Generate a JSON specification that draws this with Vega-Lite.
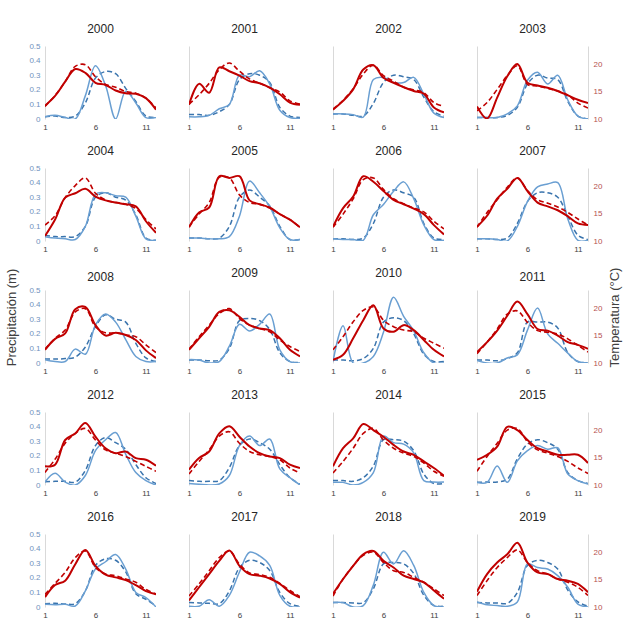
{
"$schema":"https://vega.github.io/schema/vega-lite/v6.json",
"padding":{"left":5,"top":23,"right":5,"bottom":5},
"data":{"values":[
{"year":2000,"month":1,"prec":0.015,"precAvg":0.015,"temp":12.4,"tempAvg":12.3},
{"year":2000,"month":2,"prec":0.025,"precAvg":0.02,"temp":14.2,"tempAvg":14.3},
{"year":2000,"month":3,"prec":0.01,"precAvg":0.01,"temp":16.8,"tempAvg":16.8},
{"year":2000,"month":4,"prec":0.0,"precAvg":0.02,"temp":19.1,"tempAvg":19.6},
{"year":2000,"month":5,"prec":0.16,"precAvg":0.11,"temp":18.4,"tempAvg":19.9},
{"year":2000,"month":6,"prec":0.365,"precAvg":0.28,"temp":16.6,"tempAvg":17.7},
{"year":2000,"month":7,"prec":0.23,"precAvg":0.325,"temp":16.2,"tempAvg":16.3},
{"year":2000,"month":8,"prec":0.0,"precAvg":0.31,"temp":15.2,"tempAvg":15.8},
{"year":2000,"month":9,"prec":0.19,"precAvg":0.21,"temp":14.7,"tempAvg":15.0},
{"year":2000,"month":10,"prec":0.11,"precAvg":0.12,"temp":14.6,"tempAvg":14.7},
{"year":2000,"month":11,"prec":0.01,"precAvg":0.02,"temp":13.8,"tempAvg":13.8},
{"year":2000,"month":12,"prec":0.01,"precAvg":0.01,"temp":11.7,"tempAvg":12.0},
{"year":2001,"month":1,"prec":0.015,"precAvg":0.03,"temp":12.6,"tempAvg":12.7},
{"year":2001,"month":2,"prec":0.015,"precAvg":0.03,"temp":16.4,"tempAvg":14.4},
{"year":2001,"month":3,"prec":0.025,"precAvg":0.025,"temp":14.8,"tempAvg":16.5},
{"year":2001,"month":4,"prec":0.07,"precAvg":0.05,"temp":19.4,"tempAvg":19.0},
{"year":2001,"month":5,"prec":0.1,"precAvg":0.1,"temp":18.7,"tempAvg":20.2},
{"year":2001,"month":6,"prec":0.3,"precAvg":0.27,"temp":17.9,"tempAvg":18.7},
{"year":2001,"month":7,"prec":0.29,"precAvg":0.31,"temp":16.9,"tempAvg":17.3},
{"year":2001,"month":8,"prec":0.33,"precAvg":0.3,"temp":16.5,"tempAvg":16.5},
{"year":2001,"month":9,"prec":0.24,"precAvg":0.25,"temp":15.7,"tempAvg":15.7},
{"year":2001,"month":10,"prec":0.06,"precAvg":0.08,"temp":14.5,"tempAvg":14.9},
{"year":2001,"month":11,"prec":0.01,"precAvg":0.02,"temp":13.0,"tempAvg":13.3},
{"year":2001,"month":12,"prec":0.005,"precAvg":0.01,"temp":12.6,"tempAvg":12.7},
{"year":2002,"month":1,"prec":0.035,"precAvg":0.035,"temp":11.7,"tempAvg":11.8},
{"year":2002,"month":2,"prec":0.035,"precAvg":0.035,"temp":13.3,"tempAvg":13.4},
{"year":2002,"month":3,"prec":0.03,"precAvg":0.025,"temp":15.4,"tempAvg":15.5},
{"year":2002,"month":4,"prec":0.013,"precAvg":0.02,"temp":19.0,"tempAvg":18.2},
{"year":2002,"month":5,"prec":0.27,"precAvg":0.107,"temp":19.8,"tempAvg":19.8},
{"year":2002,"month":6,"prec":0.285,"precAvg":0.25,"temp":17.5,"tempAvg":17.9},
{"year":2002,"month":7,"prec":0.25,"precAvg":0.3,"temp":16.6,"tempAvg":16.9},
{"year":2002,"month":8,"prec":0.25,"precAvg":0.29,"temp":15.8,"tempAvg":15.8},
{"year":2002,"month":9,"prec":0.285,"precAvg":0.27,"temp":15.1,"tempAvg":15.3},
{"year":2002,"month":10,"prec":0.17,"precAvg":0.15,"temp":14.6,"tempAvg":14.8},
{"year":2002,"month":11,"prec":0.04,"precAvg":0.05,"temp":12.1,"tempAvg":13.0},
{"year":2002,"month":12,"prec":0.01,"precAvg":0.02,"temp":11.2,"tempAvg":12.3},
{"year":2003,"month":1,"prec":0.01,"precAvg":0.01,"temp":12.3,"tempAvg":11.5},
{"year":2003,"month":2,"prec":0.01,"precAvg":0.01,"temp":10.1,"tempAvg":13.0},
{"year":2003,"month":3,"prec":0.01,"precAvg":0.01,"temp":13.9,"tempAvg":15.4},
{"year":2003,"month":4,"prec":0.035,"precAvg":0.025,"temp":17.8,"tempAvg":17.9},
{"year":2003,"month":5,"prec":0.09,"precAvg":0.08,"temp":20.0,"tempAvg":19.7},
{"year":2003,"month":6,"prec":0.265,"precAvg":0.24,"temp":16.6,"tempAvg":16.3},
{"year":2003,"month":7,"prec":0.32,"precAvg":0.3,"temp":16.1,"tempAvg":16.0},
{"year":2003,"month":8,"prec":0.24,"precAvg":0.28,"temp":15.7,"tempAvg":15.6},
{"year":2003,"month":9,"prec":0.3,"precAvg":0.27,"temp":15.1,"tempAvg":15.1},
{"year":2003,"month":10,"prec":0.13,"precAvg":0.12,"temp":14.3,"tempAvg":14.4},
{"year":2003,"month":11,"prec":0.02,"precAvg":0.02,"temp":13.5,"tempAvg":12.9},
{"year":2003,"month":12,"prec":0.0,"precAvg":0.0,"temp":12.9,"tempAvg":12.0},
{"year":2004,"month":1,"prec":0.03,"precAvg":0.04,"temp":10.9,"tempAvg":12.9},
{"year":2004,"month":2,"prec":0.02,"precAvg":0.03,"temp":13.9,"tempAvg":14.6},
{"year":2004,"month":3,"prec":0.015,"precAvg":0.03,"temp":17.9,"tempAvg":17.9},
{"year":2004,"month":4,"prec":0.01,"precAvg":0.03,"temp":18.7,"tempAvg":20.1},
{"year":2004,"month":5,"prec":0.1,"precAvg":0.1,"temp":19.5,"tempAvg":21.5},
{"year":2004,"month":6,"prec":0.32,"precAvg":0.3,"temp":18.1,"tempAvg":18.7},
{"year":2004,"month":7,"prec":0.33,"precAvg":0.33,"temp":17.4,"tempAvg":17.5},
{"year":2004,"month":8,"prec":0.31,"precAvg":0.3,"temp":17.0,"tempAvg":17.0},
{"year":2004,"month":9,"prec":0.3,"precAvg":0.28,"temp":16.7,"tempAvg":16.7},
{"year":2004,"month":10,"prec":0.17,"precAvg":0.18,"temp":16.3,"tempAvg":15.9},
{"year":2004,"month":11,"prec":0.015,"precAvg":0.02,"temp":13.6,"tempAvg":13.9},
{"year":2004,"month":12,"prec":0.005,"precAvg":0.005,"temp":11.5,"tempAvg":12.2},
{"year":2005,"month":1,"prec":0.02,"precAvg":0.02,"temp":12.5,"tempAvg":12.6},
{"year":2005,"month":2,"prec":0.02,"precAvg":0.02,"temp":15.2,"tempAvg":14.9},
{"year":2005,"month":3,"prec":0.015,"precAvg":0.015,"temp":16.1,"tempAvg":17.0},
{"year":2005,"month":4,"prec":0.015,"precAvg":0.02,"temp":21.8,"tempAvg":21.6},
{"year":2005,"month":5,"prec":0.03,"precAvg":0.1,"temp":21.5,"tempAvg":21.5},
{"year":2005,"month":6,"prec":0.17,"precAvg":0.3,"temp":21.8,"tempAvg":18.4},
{"year":2005,"month":7,"prec":0.41,"precAvg":0.35,"temp":17.4,"tempAvg":17.0},
{"year":2005,"month":8,"prec":0.33,"precAvg":0.3,"temp":16.7,"tempAvg":16.7},
{"year":2005,"month":9,"prec":0.235,"precAvg":0.24,"temp":16.1,"tempAvg":16.0},
{"year":2005,"month":10,"prec":0.09,"precAvg":0.1,"temp":14.9,"tempAvg":14.9},
{"year":2005,"month":11,"prec":0.01,"precAvg":0.01,"temp":13.9,"tempAvg":13.9},
{"year":2005,"month":12,"prec":0.01,"precAvg":0.01,"temp":12.5,"tempAvg":12.5},
{"year":2006,"month":1,"prec":0.015,"precAvg":0.015,"temp":12.6,"tempAvg":12.5},
{"year":2006,"month":2,"prec":0.01,"precAvg":0.015,"temp":16.0,"tempAvg":14.9},
{"year":2006,"month":3,"prec":0.01,"precAvg":0.01,"temp":18.1,"tempAvg":17.7},
{"year":2006,"month":4,"prec":0.005,"precAvg":0.02,"temp":21.8,"tempAvg":21.2},
{"year":2006,"month":5,"prec":0.18,"precAvg":0.12,"temp":20.8,"tempAvg":21.5},
{"year":2006,"month":6,"prec":0.25,"precAvg":0.3,"temp":19.1,"tempAvg":19.4},
{"year":2006,"month":7,"prec":0.34,"precAvg":0.35,"temp":17.5,"tempAvg":17.7},
{"year":2006,"month":8,"prec":0.405,"precAvg":0.33,"temp":16.7,"tempAvg":16.8},
{"year":2006,"month":9,"prec":0.29,"precAvg":0.3,"temp":15.9,"tempAvg":16.0},
{"year":2006,"month":10,"prec":0.11,"precAvg":0.12,"temp":14.9,"tempAvg":15.3},
{"year":2006,"month":11,"prec":0.01,"precAvg":0.02,"temp":12.9,"tempAvg":13.6},
{"year":2006,"month":12,"prec":0.005,"precAvg":0.01,"temp":11.2,"tempAvg":12.2},
{"year":2007,"month":1,"prec":0.015,"precAvg":0.015,"temp":12.6,"tempAvg":12.5},
{"year":2007,"month":2,"prec":0.015,"precAvg":0.015,"temp":14.6,"tempAvg":15.2},
{"year":2007,"month":3,"prec":0.01,"precAvg":0.01,"temp":17.7,"tempAvg":17.5},
{"year":2007,"month":4,"prec":0.0,"precAvg":0.02,"temp":19.5,"tempAvg":19.8},
{"year":2007,"month":5,"prec":0.1,"precAvg":0.12,"temp":21.5,"tempAvg":21.5},
{"year":2007,"month":6,"prec":0.27,"precAvg":0.27,"temp":19.1,"tempAvg":19.2},
{"year":2007,"month":7,"prec":0.37,"precAvg":0.33,"temp":17.0,"tempAvg":17.5},
{"year":2007,"month":8,"prec":0.39,"precAvg":0.33,"temp":16.3,"tempAvg":16.9},
{"year":2007,"month":9,"prec":0.4,"precAvg":0.3,"temp":15.6,"tempAvg":16.2},
{"year":2007,"month":10,"prec":0.15,"precAvg":0.17,"temp":14.5,"tempAvg":15.2},
{"year":2007,"month":11,"prec":0.005,"precAvg":0.04,"temp":13.2,"tempAvg":14.0},
{"year":2007,"month":12,"prec":0.005,"precAvg":0.01,"temp":12.9,"tempAvg":12.9},
{"year":2008,"month":1,"prec":0.022,"precAvg":0.027,"temp":12.4,"tempAvg":12.5},
{"year":2008,"month":2,"prec":0.01,"precAvg":0.027,"temp":14.4,"tempAvg":14.5},
{"year":2008,"month":3,"prec":0.01,"precAvg":0.03,"temp":15.4,"tempAvg":16.0},
{"year":2008,"month":4,"prec":0.095,"precAvg":0.04,"temp":19.8,"tempAvg":19.3},
{"year":2008,"month":5,"prec":0.06,"precAvg":0.11,"temp":20.2,"tempAvg":19.9},
{"year":2008,"month":6,"prec":0.26,"precAvg":0.25,"temp":16.9,"tempAvg":16.6},
{"year":2008,"month":7,"prec":0.335,"precAvg":0.33,"temp":15.0,"tempAvg":15.5},
{"year":2008,"month":8,"prec":0.28,"precAvg":0.3,"temp":15.5,"tempAvg":15.5},
{"year":2008,"month":9,"prec":0.16,"precAvg":0.28,"temp":15.1,"tempAvg":15.1},
{"year":2008,"month":10,"prec":0.045,"precAvg":0.135,"temp":14.2,"tempAvg":14.8},
{"year":2008,"month":11,"prec":0.01,"precAvg":0.035,"temp":12.3,"tempAvg":13.3},
{"year":2008,"month":12,"prec":0.01,"precAvg":0.01,"temp":10.9,"tempAvg":11.9},
{"year":2009,"month":1,"prec":0.023,"precAvg":0.02,"temp":12.4,"tempAvg":12.5},
{"year":2009,"month":2,"prec":0.02,"precAvg":0.02,"temp":14.5,"tempAvg":14.8},
{"year":2009,"month":3,"prec":0.0,"precAvg":0.015,"temp":16.6,"tempAvg":16.9},
{"year":2009,"month":4,"prec":0.01,"precAvg":0.02,"temp":19.3,"tempAvg":19.0},
{"year":2009,"month":5,"prec":0.115,"precAvg":0.1,"temp":19.6,"tempAvg":19.9},
{"year":2009,"month":6,"prec":0.265,"precAvg":0.29,"temp":18.4,"tempAvg":18.1},
{"year":2009,"month":7,"prec":0.22,"precAvg":0.305,"temp":16.9,"tempAvg":16.9},
{"year":2009,"month":8,"prec":0.265,"precAvg":0.29,"temp":16.3,"tempAvg":16.3},
{"year":2009,"month":9,"prec":0.335,"precAvg":0.23,"temp":16.0,"tempAvg":15.7},
{"year":2009,"month":10,"prec":0.09,"precAvg":0.07,"temp":14.5,"tempAvg":14.2},
{"year":2009,"month":11,"prec":0.01,"precAvg":0.01,"temp":12.4,"tempAvg":13.0},
{"year":2009,"month":12,"prec":0.0,"precAvg":0.005,"temp":11.2,"tempAvg":12.1},
{"year":2010,"month":1,"prec":0.01,"precAvg":0.02,"temp":10.6,"tempAvg":12.4},
{"year":2010,"month":2,"prec":0.255,"precAvg":0.02,"temp":11.5,"tempAvg":14.8},
{"year":2010,"month":3,"prec":0.0,"precAvg":0.015,"temp":14.5,"tempAvg":17.5},
{"year":2010,"month":4,"prec":0.0,"precAvg":0.03,"temp":17.8,"tempAvg":19.6},
{"year":2010,"month":5,"prec":0.045,"precAvg":0.1,"temp":20.5,"tempAvg":20.2},
{"year":2010,"month":6,"prec":0.21,"precAvg":0.28,"temp":16.3,"tempAvg":17.8},
{"year":2010,"month":7,"prec":0.45,"precAvg":0.31,"temp":15.7,"tempAvg":16.6},
{"year":2010,"month":8,"prec":0.32,"precAvg":0.29,"temp":16.9,"tempAvg":16.0},
{"year":2010,"month":9,"prec":0.22,"precAvg":0.2,"temp":16.0,"tempAvg":15.7},
{"year":2010,"month":10,"prec":0.07,"precAvg":0.06,"temp":14.2,"tempAvg":14.5},
{"year":2010,"month":11,"prec":0.0,"precAvg":0.01,"temp":12.4,"tempAvg":13.6},
{"year":2010,"month":12,"prec":0.0,"precAvg":0.01,"temp":11.2,"tempAvg":12.7},
{"year":2011,"month":1,"prec":0.018,"precAvg":0.02,"temp":12.0,"tempAvg":11.7},
{"year":2011,"month":2,"prec":0.0,"precAvg":0.02,"temp":13.8,"tempAvg":13.8},
{"year":2011,"month":3,"prec":0.0,"precAvg":0.015,"temp":15.9,"tempAvg":16.2},
{"year":2011,"month":4,"prec":0.034,"precAvg":0.03,"temp":18.6,"tempAvg":18.9},
{"year":2011,"month":5,"prec":0.056,"precAvg":0.07,"temp":21.2,"tempAvg":19.5},
{"year":2011,"month":6,"prec":0.225,"precAvg":0.28,"temp":18.9,"tempAvg":17.4},
{"year":2011,"month":7,"prec":0.376,"precAvg":0.28,"temp":16.2,"tempAvg":15.9},
{"year":2011,"month":8,"prec":0.2,"precAvg":0.28,"temp":15.9,"tempAvg":15.6},
{"year":2011,"month":9,"prec":0.135,"precAvg":0.24,"temp":15.0,"tempAvg":15.3},
{"year":2011,"month":10,"prec":0.068,"precAvg":0.07,"temp":13.8,"tempAvg":14.4},
{"year":2011,"month":11,"prec":0.01,"precAvg":0.01,"temp":13.3,"tempAvg":13.2},
{"year":2011,"month":12,"prec":0.0,"precAvg":0.0,"temp":12.6,"tempAvg":12.0},
{"year":2012,"month":1,"prec":0.02,"precAvg":0.022,"temp":13.4,"tempAvg":12.3},
{"year":2012,"month":2,"prec":0.08,"precAvg":0.025,"temp":13.7,"tempAvg":14.7},
{"year":2012,"month":3,"prec":0.02,"precAvg":0.025,"temp":18.2,"tempAvg":17.6},
{"year":2012,"month":4,"prec":0.0,"precAvg":0.02,"temp":19.4,"tempAvg":19.4},
{"year":2012,"month":5,"prec":0.065,"precAvg":0.1,"temp":21.3,"tempAvg":20.3},
{"year":2012,"month":6,"prec":0.235,"precAvg":0.27,"temp":18.8,"tempAvg":18.2},
{"year":2012,"month":7,"prec":0.31,"precAvg":0.325,"temp":16.7,"tempAvg":16.4},
{"year":2012,"month":8,"prec":0.36,"precAvg":0.29,"temp":15.8,"tempAvg":15.8},
{"year":2012,"month":9,"prec":0.21,"precAvg":0.245,"temp":16.1,"tempAvg":15.2},
{"year":2012,"month":10,"prec":0.085,"precAvg":0.14,"temp":14.9,"tempAvg":14.3},
{"year":2012,"month":11,"prec":0.03,"precAvg":0.05,"temp":14.6,"tempAvg":13.4},
{"year":2012,"month":12,"prec":0.0,"precAvg":0.01,"temp":13.5,"tempAvg":12.5},
{"year":2013,"month":1,"prec":0.01,"precAvg":0.03,"temp":12.8,"tempAvg":12.0},
{"year":2013,"month":2,"prec":0.005,"precAvg":0.025,"temp":14.9,"tempAvg":14.3},
{"year":2013,"month":3,"prec":0.0,"precAvg":0.025,"temp":16.1,"tempAvg":16.4},
{"year":2013,"month":4,"prec":0.007,"precAvg":0.03,"temp":19.4,"tempAvg":18.9},
{"year":2013,"month":5,"prec":0.065,"precAvg":0.12,"temp":20.7,"tempAvg":19.7},
{"year":2013,"month":6,"prec":0.27,"precAvg":0.27,"temp":18.8,"tempAvg":17.6},
{"year":2013,"month":7,"prec":0.335,"precAvg":0.315,"temp":17.0,"tempAvg":16.1},
{"year":2013,"month":8,"prec":0.27,"precAvg":0.29,"temp":15.8,"tempAvg":15.5},
{"year":2013,"month":9,"prec":0.315,"precAvg":0.245,"temp":15.2,"tempAvg":15.2},
{"year":2013,"month":10,"prec":0.11,"precAvg":0.14,"temp":14.9,"tempAvg":14.6},
{"year":2013,"month":11,"prec":0.05,"precAvg":0.05,"temp":13.7,"tempAvg":13.1},
{"year":2013,"month":12,"prec":0.0,"precAvg":0.005,"temp":13.1,"tempAvg":12.2},
{"year":2014,"month":1,"prec":0.018,"precAvg":0.03,"temp":13.4,"tempAvg":12.2},
{"year":2014,"month":2,"prec":0.018,"precAvg":0.03,"temp":16.7,"tempAvg":14.3},
{"year":2014,"month":3,"prec":0.0,"precAvg":0.025,"temp":18.5,"tempAvg":16.7},
{"year":2014,"month":4,"prec":0.018,"precAvg":0.05,"temp":21.1,"tempAvg":19.4},
{"year":2014,"month":5,"prec":0.085,"precAvg":0.13,"temp":20.0,"tempAvg":20.3},
{"year":2014,"month":6,"prec":0.335,"precAvg":0.31,"temp":18.8,"tempAvg":18.2},
{"year":2014,"month":7,"prec":0.29,"precAvg":0.31,"temp":17.3,"tempAvg":16.7},
{"year":2014,"month":8,"prec":0.28,"precAvg":0.3,"temp":16.1,"tempAvg":15.8},
{"year":2014,"month":9,"prec":0.22,"precAvg":0.235,"temp":15.5,"tempAvg":15.2},
{"year":2014,"month":10,"prec":0.03,"precAvg":0.075,"temp":14.3,"tempAvg":14.0},
{"year":2014,"month":11,"prec":0.02,"precAvg":0.01,"temp":13.1,"tempAvg":12.5},
{"year":2014,"month":12,"prec":0.02,"precAvg":0.01,"temp":11.7,"tempAvg":11.6},
{"year":2015,"month":1,"prec":0.018,"precAvg":0.018,"temp":14.6,"tempAvg":12.5},
{"year":2015,"month":2,"prec":0.018,"precAvg":0.02,"temp":15.5,"tempAvg":15.2},
{"year":2015,"month":3,"prec":0.13,"precAvg":0.02,"temp":17.0,"tempAvg":17.6},
{"year":2015,"month":4,"prec":0.018,"precAvg":0.04,"temp":20.6,"tempAvg":20.0},
{"year":2015,"month":5,"prec":0.165,"precAvg":0.18,"temp":20.0,"tempAvg":20.3},
{"year":2015,"month":6,"prec":0.235,"precAvg":0.28,"temp":18.2,"tempAvg":17.9},
{"year":2015,"month":7,"prec":0.27,"precAvg":0.31,"temp":16.7,"tempAvg":16.4},
{"year":2015,"month":8,"prec":0.245,"precAvg":0.29,"temp":16.1,"tempAvg":15.8},
{"year":2015,"month":9,"prec":0.255,"precAvg":0.245,"temp":15.5,"tempAvg":15.2},
{"year":2015,"month":10,"prec":0.075,"precAvg":0.085,"temp":15.5,"tempAvg":14.3},
{"year":2015,"month":11,"prec":0.03,"precAvg":0.03,"temp":15.5,"tempAvg":13.1},
{"year":2015,"month":12,"prec":0.007,"precAvg":0.01,"temp":14.0,"tempAvg":12.1},
{"year":2016,"month":1,"prec":0.018,"precAvg":0.023,"temp":11.8,"tempAvg":12.3},
{"year":2016,"month":2,"prec":0.015,"precAvg":0.025,"temp":14.0,"tempAvg":14.3},
{"year":2016,"month":3,"prec":0.018,"precAvg":0.02,"temp":14.8,"tempAvg":16.3},
{"year":2016,"month":4,"prec":0.007,"precAvg":0.023,"temp":17.8,"tempAvg":19.0},
{"year":2016,"month":5,"prec":0.11,"precAvg":0.11,"temp":20.4,"tempAvg":20.2},
{"year":2016,"month":6,"prec":0.26,"precAvg":0.285,"temp":17.5,"tempAvg":17.2},
{"year":2016,"month":7,"prec":0.31,"precAvg":0.33,"temp":15.9,"tempAvg":16.0},
{"year":2016,"month":8,"prec":0.36,"precAvg":0.32,"temp":15.4,"tempAvg":15.7},
{"year":2016,"month":9,"prec":0.26,"precAvg":0.24,"temp":14.9,"tempAvg":15.1},
{"year":2016,"month":10,"prec":0.1,"precAvg":0.09,"temp":14.0,"tempAvg":14.5},
{"year":2016,"month":11,"prec":0.065,"precAvg":0.053,"temp":12.9,"tempAvg":13.2},
{"year":2016,"month":12,"prec":0.0,"precAvg":0.007,"temp":12.3,"tempAvg":12.4},
{"year":2017,"month":1,"prec":0.005,"precAvg":0.03,"temp":11.2,"tempAvg":12.0},
{"year":2017,"month":2,"prec":0.005,"precAvg":0.028,"temp":13.6,"tempAvg":14.2},
{"year":2017,"month":3,"prec":0.05,"precAvg":0.025,"temp":16.0,"tempAvg":16.6},
{"year":2017,"month":4,"prec":0.005,"precAvg":0.023,"temp":18.4,"tempAvg":19.0},
{"year":2017,"month":5,"prec":0.08,"precAvg":0.11,"temp":20.3,"tempAvg":20.2},
{"year":2017,"month":6,"prec":0.24,"precAvg":0.27,"temp":17.5,"tempAvg":17.8},
{"year":2017,"month":7,"prec":0.375,"precAvg":0.32,"temp":16.0,"tempAvg":16.2},
{"year":2017,"month":8,"prec":0.35,"precAvg":0.305,"temp":15.7,"tempAvg":15.9},
{"year":2017,"month":9,"prec":0.285,"precAvg":0.25,"temp":15.2,"tempAvg":15.4},
{"year":2017,"month":10,"prec":0.08,"precAvg":0.1,"temp":14.2,"tempAvg":14.3},
{"year":2017,"month":11,"prec":0.005,"precAvg":0.023,"temp":12.7,"tempAvg":13.0},
{"year":2017,"month":12,"prec":0.0,"precAvg":0.005,"temp":11.7,"tempAvg":11.9},
{"year":2018,"month":1,"prec":0.03,"precAvg":0.03,"temp":12.4,"tempAvg":12.0},
{"year":2018,"month":2,"prec":0.03,"precAvg":0.03,"temp":15.1,"tempAvg":15.1},
{"year":2018,"month":3,"prec":0.0,"precAvg":0.028,"temp":17.5,"tempAvg":17.5},
{"year":2018,"month":4,"prec":0.01,"precAvg":0.03,"temp":19.6,"tempAvg":19.4},
{"year":2018,"month":5,"prec":0.15,"precAvg":0.125,"temp":20.2,"tempAvg":20.0},
{"year":2018,"month":6,"prec":0.375,"precAvg":0.295,"temp":18.4,"tempAvg":18.1},
{"year":2018,"month":7,"prec":0.295,"precAvg":0.305,"temp":17.2,"tempAvg":16.6},
{"year":2018,"month":8,"prec":0.385,"precAvg":0.295,"temp":15.7,"tempAvg":16.3},
{"year":2018,"month":9,"prec":0.285,"precAvg":0.23,"temp":15.1,"tempAvg":15.4},
{"year":2018,"month":10,"prec":0.1,"precAvg":0.08,"temp":14.5,"tempAvg":14.5},
{"year":2018,"month":11,"prec":0.01,"precAvg":0.01,"temp":13.0,"tempAvg":13.3},
{"year":2018,"month":12,"prec":0.0,"precAvg":0.005,"temp":11.5,"tempAvg":12.1},
{"year":2019,"month":1,"prec":0.035,"precAvg":0.03,"temp":12.8,"tempAvg":12.1},
{"year":2019,"month":2,"prec":0.015,"precAvg":0.028,"temp":16.0,"tempAvg":14.8},
{"year":2019,"month":3,"prec":0.01,"precAvg":0.028,"temp":18.1,"tempAvg":17.2},
{"year":2019,"month":4,"prec":0.005,"precAvg":0.025,"temp":19.6,"tempAvg":19.0},
{"year":2019,"month":5,"prec":0.035,"precAvg":0.1,"temp":21.7,"tempAvg":20.4},
{"year":2019,"month":6,"prec":0.295,"precAvg":0.285,"temp":18.1,"tempAvg":18.1},
{"year":2019,"month":7,"prec":0.27,"precAvg":0.32,"temp":16.3,"tempAvg":16.6},
{"year":2019,"month":8,"prec":0.26,"precAvg":0.305,"temp":16.0,"tempAvg":16.0},
{"year":2019,"month":9,"prec":0.215,"precAvg":0.26,"temp":15.1,"tempAvg":15.1},
{"year":2019,"month":10,"prec":0.135,"precAvg":0.115,"temp":14.8,"tempAvg":14.5},
{"year":2019,"month":11,"prec":0.02,"precAvg":0.035,"temp":14.2,"tempAvg":13.6},
{"year":2019,"month":12,"prec":0.0,"precAvg":0.005,"temp":12.7,"tempAvg":12.1}
]},
"columns":4,
"spacing":{"row":49,"column":33},
"bounds":"flush",
"concat":[
{"title":{"text":"2000","offset":6},"transform":[{"filter":"datum.year == 2000"}],"encoding":{"x":{"field":"month","type":"quantitative","scale":{"domain":[1,12],"nice":false,"zero":false},"axis":{"values":[1,6,11],"title":null,"domain":false,"labelFlush":false,"labelFontSize":8,"labelColor":"#404040","labelPadding":4}}},"layer":[
{"mark":{"type":"line","clip":true,"color":"#3a74ad","strokeWidth":1.5,"strokeDash":[5,3]},"encoding":{"y":{"field":"precAvg","type":"quantitative","scale":{"domain":[0,0.5],"nice":false},"axis":null}}},
{"mark":{"type":"line","clip":true,"color":"#6a9fd2","strokeWidth":1.5},"encoding":{"y":{"field":"prec","type":"quantitative","scale":{"domain":[0,0.5],"nice":false},"axis":{"title":null,"values":[0,0.1,0.2,0.3,0.4,0.5],"labelExpr":"datum.value == 0 ? '0' : format(datum.value, '.1f')","labelColor":"#7092be","labelFontSize":8,"labelPadding":5}}}},
{"mark":{"type":"line","clip":true,"color":"#c00000","strokeWidth":1.6,"strokeDash":[5,3]},"encoding":{"y":{"field":"tempAvg","type":"quantitative","scale":{"domain":[10,23.3],"nice":false,"zero":false},"axis":null}}},
{"mark":{"type":"line","clip":true,"color":"#c00000","strokeWidth":2},"encoding":{"y":{"field":"temp","type":"quantitative","scale":{"domain":[10,23.3],"nice":false,"zero":false},"axis":null}}}
],"resolve":{"scale":{"y":"independent"}}},
{"title":"2001","transform":[{"filter":"datum.year == 2001"}],"encoding":{"x":{"field":"month","type":"quantitative","scale":{"domain":[1,12],"nice":false,"zero":false},"axis":{"values":[1,6,11],"title":null,"domain":false,"labelFlush":false,"labelFontSize":8,"labelColor":"#404040","labelPadding":4}}},"layer":[
{"mark":{"type":"line","clip":true,"color":"#3a74ad","strokeWidth":1.5,"strokeDash":[5,3]},"encoding":{"y":{"field":"precAvg","type":"quantitative","scale":{"domain":[0,0.5],"nice":false},"axis":null}}},
{"mark":{"type":"line","clip":true,"color":"#6a9fd2","strokeWidth":1.5},"encoding":{"y":{"field":"prec","type":"quantitative","scale":{"domain":[0,0.5],"nice":false},"axis":{"title":null,"labels":false}}}},
{"mark":{"type":"line","clip":true,"color":"#c00000","strokeWidth":1.6,"strokeDash":[5,3]},"encoding":{"y":{"field":"tempAvg","type":"quantitative","scale":{"domain":[10,23.3],"nice":false,"zero":false},"axis":null}}},
{"mark":{"type":"line","clip":true,"color":"#c00000","strokeWidth":2},"encoding":{"y":{"field":"temp","type":"quantitative","scale":{"domain":[10,23.3],"nice":false,"zero":false},"axis":null}}}
],"resolve":{"scale":{"y":"independent"}}},
{"title":"2002","transform":[{"filter":"datum.year == 2002"}],"encoding":{"x":{"field":"month","type":"quantitative","scale":{"domain":[1,12],"nice":false,"zero":false},"axis":{"values":[1,6,11],"title":null,"domain":false,"labelFlush":false,"labelFontSize":8,"labelColor":"#404040","labelPadding":4}}},"layer":[
{"mark":{"type":"line","clip":true,"color":"#3a74ad","strokeWidth":1.5,"strokeDash":[5,3]},"encoding":{"y":{"field":"precAvg","type":"quantitative","scale":{"domain":[0,0.5],"nice":false},"axis":null}}},
{"mark":{"type":"line","clip":true,"color":"#6a9fd2","strokeWidth":1.5},"encoding":{"y":{"field":"prec","type":"quantitative","scale":{"domain":[0,0.5],"nice":false},"axis":{"title":null,"labels":false}}}},
{"mark":{"type":"line","clip":true,"color":"#c00000","strokeWidth":1.6,"strokeDash":[5,3]},"encoding":{"y":{"field":"tempAvg","type":"quantitative","scale":{"domain":[10,23.3],"nice":false,"zero":false},"axis":null}}},
{"mark":{"type":"line","clip":true,"color":"#c00000","strokeWidth":2},"encoding":{"y":{"field":"temp","type":"quantitative","scale":{"domain":[10,23.3],"nice":false,"zero":false},"axis":null}}}
],"resolve":{"scale":{"y":"independent"}}},
{"title":"2003","transform":[{"filter":"datum.year == 2003"}],"encoding":{"x":{"field":"month","type":"quantitative","scale":{"domain":[1,12],"nice":false,"zero":false},"axis":{"values":[1,6,11],"title":null,"domain":false,"labelFlush":false,"labelFontSize":8,"labelColor":"#404040","labelPadding":4}}},"layer":[
{"mark":{"type":"line","clip":true,"color":"#3a74ad","strokeWidth":1.5,"strokeDash":[5,3]},"encoding":{"y":{"field":"precAvg","type":"quantitative","scale":{"domain":[0,0.5],"nice":false},"axis":null}}},
{"mark":{"type":"line","clip":true,"color":"#6a9fd2","strokeWidth":1.5},"encoding":{"y":{"field":"prec","type":"quantitative","scale":{"domain":[0,0.5],"nice":false},"axis":{"title":null,"labels":false}}}},
{"mark":{"type":"line","clip":true,"color":"#c00000","strokeWidth":1.6,"strokeDash":[5,3]},"encoding":{"y":{"field":"tempAvg","type":"quantitative","scale":{"domain":[10,23.3],"nice":false,"zero":false},"axis":null}}},
{"mark":{"type":"line","clip":true,"color":"#c00000","strokeWidth":2},"encoding":{"y":{"field":"temp","type":"quantitative","scale":{"domain":[10,23.3],"nice":false,"zero":false},"axis":{"orient":"right","title":null,"values":[10,15,20],"labelColor":"#b5504f","labelFontSize":8,"labelPadding":5}}}}
],"resolve":{"scale":{"y":"independent"}}},
{"title":{"text":"2004","offset":6},"transform":[{"filter":"datum.year == 2004"}],"encoding":{"x":{"field":"month","type":"quantitative","scale":{"domain":[1,12],"nice":false,"zero":false},"axis":{"values":[1,6,11],"title":null,"domain":false,"labelFlush":false,"labelFontSize":8,"labelColor":"#404040","labelPadding":4}}},"layer":[
{"mark":{"type":"line","clip":true,"color":"#3a74ad","strokeWidth":1.5,"strokeDash":[5,3]},"encoding":{"y":{"field":"precAvg","type":"quantitative","scale":{"domain":[0,0.5],"nice":false},"axis":null}}},
{"mark":{"type":"line","clip":true,"color":"#6a9fd2","strokeWidth":1.5},"encoding":{"y":{"field":"prec","type":"quantitative","scale":{"domain":[0,0.5],"nice":false},"axis":{"title":null,"values":[0,0.1,0.2,0.3,0.4,0.5],"labelExpr":"datum.value == 0 ? '0' : format(datum.value, '.1f')","labelColor":"#7092be","labelFontSize":8,"labelPadding":5}}}},
{"mark":{"type":"line","clip":true,"color":"#c00000","strokeWidth":1.6,"strokeDash":[5,3]},"encoding":{"y":{"field":"tempAvg","type":"quantitative","scale":{"domain":[10,23.3],"nice":false,"zero":false},"axis":null}}},
{"mark":{"type":"line","clip":true,"color":"#c00000","strokeWidth":2},"encoding":{"y":{"field":"temp","type":"quantitative","scale":{"domain":[10,23.3],"nice":false,"zero":false},"axis":null}}}
],"resolve":{"scale":{"y":"independent"}}},
{"title":"2005","transform":[{"filter":"datum.year == 2005"}],"encoding":{"x":{"field":"month","type":"quantitative","scale":{"domain":[1,12],"nice":false,"zero":false},"axis":{"values":[1,6,11],"title":null,"domain":false,"labelFlush":false,"labelFontSize":8,"labelColor":"#404040","labelPadding":4}}},"layer":[
{"mark":{"type":"line","clip":true,"color":"#3a74ad","strokeWidth":1.5,"strokeDash":[5,3]},"encoding":{"y":{"field":"precAvg","type":"quantitative","scale":{"domain":[0,0.5],"nice":false},"axis":null}}},
{"mark":{"type":"line","clip":true,"color":"#6a9fd2","strokeWidth":1.5},"encoding":{"y":{"field":"prec","type":"quantitative","scale":{"domain":[0,0.5],"nice":false},"axis":{"title":null,"labels":false}}}},
{"mark":{"type":"line","clip":true,"color":"#c00000","strokeWidth":1.6,"strokeDash":[5,3]},"encoding":{"y":{"field":"tempAvg","type":"quantitative","scale":{"domain":[10,23.3],"nice":false,"zero":false},"axis":null}}},
{"mark":{"type":"line","clip":true,"color":"#c00000","strokeWidth":2},"encoding":{"y":{"field":"temp","type":"quantitative","scale":{"domain":[10,23.3],"nice":false,"zero":false},"axis":null}}}
],"resolve":{"scale":{"y":"independent"}}},
{"title":"2006","transform":[{"filter":"datum.year == 2006"}],"encoding":{"x":{"field":"month","type":"quantitative","scale":{"domain":[1,12],"nice":false,"zero":false},"axis":{"values":[1,6,11],"title":null,"domain":false,"labelFlush":false,"labelFontSize":8,"labelColor":"#404040","labelPadding":4}}},"layer":[
{"mark":{"type":"line","clip":true,"color":"#3a74ad","strokeWidth":1.5,"strokeDash":[5,3]},"encoding":{"y":{"field":"precAvg","type":"quantitative","scale":{"domain":[0,0.5],"nice":false},"axis":null}}},
{"mark":{"type":"line","clip":true,"color":"#6a9fd2","strokeWidth":1.5},"encoding":{"y":{"field":"prec","type":"quantitative","scale":{"domain":[0,0.5],"nice":false},"axis":{"title":null,"labels":false}}}},
{"mark":{"type":"line","clip":true,"color":"#c00000","strokeWidth":1.6,"strokeDash":[5,3]},"encoding":{"y":{"field":"tempAvg","type":"quantitative","scale":{"domain":[10,23.3],"nice":false,"zero":false},"axis":null}}},
{"mark":{"type":"line","clip":true,"color":"#c00000","strokeWidth":2},"encoding":{"y":{"field":"temp","type":"quantitative","scale":{"domain":[10,23.3],"nice":false,"zero":false},"axis":null}}}
],"resolve":{"scale":{"y":"independent"}}},
{"title":"2007","transform":[{"filter":"datum.year == 2007"}],"encoding":{"x":{"field":"month","type":"quantitative","scale":{"domain":[1,12],"nice":false,"zero":false},"axis":{"values":[1,6,11],"title":null,"domain":false,"labelFlush":false,"labelFontSize":8,"labelColor":"#404040","labelPadding":4}}},"layer":[
{"mark":{"type":"line","clip":true,"color":"#3a74ad","strokeWidth":1.5,"strokeDash":[5,3]},"encoding":{"y":{"field":"precAvg","type":"quantitative","scale":{"domain":[0,0.5],"nice":false},"axis":null}}},
{"mark":{"type":"line","clip":true,"color":"#6a9fd2","strokeWidth":1.5},"encoding":{"y":{"field":"prec","type":"quantitative","scale":{"domain":[0,0.5],"nice":false},"axis":{"title":null,"labels":false}}}},
{"mark":{"type":"line","clip":true,"color":"#c00000","strokeWidth":1.6,"strokeDash":[5,3]},"encoding":{"y":{"field":"tempAvg","type":"quantitative","scale":{"domain":[10,23.3],"nice":false,"zero":false},"axis":null}}},
{"mark":{"type":"line","clip":true,"color":"#c00000","strokeWidth":2},"encoding":{"y":{"field":"temp","type":"quantitative","scale":{"domain":[10,23.3],"nice":false,"zero":false},"axis":{"orient":"right","title":null,"values":[10,15,20],"labelColor":"#b5504f","labelFontSize":8,"labelPadding":5}}}}
],"resolve":{"scale":{"y":"independent"}}},
{"title":{"text":"2008","offset":-16},"transform":[{"filter":"datum.year == 2008"}],"encoding":{"x":{"field":"month","type":"quantitative","scale":{"domain":[1,12],"nice":false,"zero":false},"axis":{"values":[1,6,11],"title":null,"domain":false,"labelFlush":false,"labelFontSize":8,"labelColor":"#404040","labelPadding":4}}},"layer":[
{"mark":{"type":"line","clip":true,"color":"#3a74ad","strokeWidth":1.5,"strokeDash":[5,3]},"encoding":{"y":{"field":"precAvg","type":"quantitative","scale":{"domain":[0,0.5],"nice":false},"axis":null}}},
{"mark":{"type":"line","clip":true,"color":"#6a9fd2","strokeWidth":1.5},"encoding":{"y":{"field":"prec","type":"quantitative","scale":{"domain":[0,0.5],"nice":false},"axis":{"title":"Precipitación (m)","titlePadding":10,"titleFontSize":13,"titleY":27,"values":[0,0.1,0.2,0.3,0.4,0.5],"labelExpr":"datum.value == 0 ? '0' : format(datum.value, '.1f')","labelColor":"#7092be","labelFontSize":8,"labelPadding":5}}}},
{"mark":{"type":"line","clip":true,"color":"#c00000","strokeWidth":1.6,"strokeDash":[5,3]},"encoding":{"y":{"field":"tempAvg","type":"quantitative","scale":{"domain":[10,23.3],"nice":false,"zero":false},"axis":null}}},
{"mark":{"type":"line","clip":true,"color":"#c00000","strokeWidth":2},"encoding":{"y":{"field":"temp","type":"quantitative","scale":{"domain":[10,23.3],"nice":false,"zero":false},"axis":null}}}
],"resolve":{"scale":{"y":"independent"}}},
{"title":"2009","transform":[{"filter":"datum.year == 2009"}],"encoding":{"x":{"field":"month","type":"quantitative","scale":{"domain":[1,12],"nice":false,"zero":false},"axis":{"values":[1,6,11],"title":null,"domain":false,"labelFlush":false,"labelFontSize":8,"labelColor":"#404040","labelPadding":4}}},"layer":[
{"mark":{"type":"line","clip":true,"color":"#3a74ad","strokeWidth":1.5,"strokeDash":[5,3]},"encoding":{"y":{"field":"precAvg","type":"quantitative","scale":{"domain":[0,0.5],"nice":false},"axis":null}}},
{"mark":{"type":"line","clip":true,"color":"#6a9fd2","strokeWidth":1.5},"encoding":{"y":{"field":"prec","type":"quantitative","scale":{"domain":[0,0.5],"nice":false},"axis":{"title":null,"labels":false}}}},
{"mark":{"type":"line","clip":true,"color":"#c00000","strokeWidth":1.6,"strokeDash":[5,3]},"encoding":{"y":{"field":"tempAvg","type":"quantitative","scale":{"domain":[10,23.3],"nice":false,"zero":false},"axis":null}}},
{"mark":{"type":"line","clip":true,"color":"#c00000","strokeWidth":2},"encoding":{"y":{"field":"temp","type":"quantitative","scale":{"domain":[10,23.3],"nice":false,"zero":false},"axis":null}}}
],"resolve":{"scale":{"y":"independent"}}},
{"title":"2010","transform":[{"filter":"datum.year == 2010"}],"encoding":{"x":{"field":"month","type":"quantitative","scale":{"domain":[1,12],"nice":false,"zero":false},"axis":{"values":[1,6,11],"title":null,"domain":false,"labelFlush":false,"labelFontSize":8,"labelColor":"#404040","labelPadding":4}}},"layer":[
{"mark":{"type":"line","clip":true,"color":"#3a74ad","strokeWidth":1.5,"strokeDash":[5,3]},"encoding":{"y":{"field":"precAvg","type":"quantitative","scale":{"domain":[0,0.5],"nice":false},"axis":null}}},
{"mark":{"type":"line","clip":true,"color":"#6a9fd2","strokeWidth":1.5},"encoding":{"y":{"field":"prec","type":"quantitative","scale":{"domain":[0,0.5],"nice":false},"axis":{"title":null,"labels":false}}}},
{"mark":{"type":"line","clip":true,"color":"#c00000","strokeWidth":1.6,"strokeDash":[5,3]},"encoding":{"y":{"field":"tempAvg","type":"quantitative","scale":{"domain":[10,23.3],"nice":false,"zero":false},"axis":null}}},
{"mark":{"type":"line","clip":true,"color":"#c00000","strokeWidth":2},"encoding":{"y":{"field":"temp","type":"quantitative","scale":{"domain":[10,23.3],"nice":false,"zero":false},"axis":null}}}
],"resolve":{"scale":{"y":"independent"}}},
{"title":{"text":"2011","offset":-17},"transform":[{"filter":"datum.year == 2011"}],"encoding":{"x":{"field":"month","type":"quantitative","scale":{"domain":[1,12],"nice":false,"zero":false},"axis":{"values":[1,6,11],"title":null,"domain":false,"labelFlush":false,"labelFontSize":8,"labelColor":"#404040","labelPadding":4}}},"layer":[
{"mark":{"type":"line","clip":true,"color":"#3a74ad","strokeWidth":1.5,"strokeDash":[5,3]},"encoding":{"y":{"field":"precAvg","type":"quantitative","scale":{"domain":[0,0.5],"nice":false},"axis":null}}},
{"mark":{"type":"line","clip":true,"color":"#6a9fd2","strokeWidth":1.5},"encoding":{"y":{"field":"prec","type":"quantitative","scale":{"domain":[0,0.5],"nice":false},"axis":{"title":null,"labels":false}}}},
{"mark":{"type":"line","clip":true,"color":"#c00000","strokeWidth":1.6,"strokeDash":[5,3]},"encoding":{"y":{"field":"tempAvg","type":"quantitative","scale":{"domain":[10,23.3],"nice":false,"zero":false},"axis":null}}},
{"mark":{"type":"line","clip":true,"color":"#c00000","strokeWidth":2},"encoding":{"y":{"field":"temp","type":"quantitative","scale":{"domain":[10,23.3],"nice":false,"zero":false},"axis":{"orient":"right","title":"Temperatura (°C)","titleAngle":270,"titlePadding":20,"titleFontSize":13,"titleY":27,"values":[10,15,20],"labelColor":"#b5504f","labelFontSize":8,"labelPadding":5}}}}
],"resolve":{"scale":{"y":"independent"}}},
{"title":{"text":"2012","offset":6},"transform":[{"filter":"datum.year == 2012"}],"encoding":{"x":{"field":"month","type":"quantitative","scale":{"domain":[1,12],"nice":false,"zero":false},"axis":{"values":[1,6,11],"title":null,"domain":false,"labelFlush":false,"labelFontSize":8,"labelColor":"#404040","labelPadding":4}}},"layer":[
{"mark":{"type":"line","clip":true,"color":"#3a74ad","strokeWidth":1.5,"strokeDash":[5,3]},"encoding":{"y":{"field":"precAvg","type":"quantitative","scale":{"domain":[0,0.5],"nice":false},"axis":null}}},
{"mark":{"type":"line","clip":true,"color":"#6a9fd2","strokeWidth":1.5},"encoding":{"y":{"field":"prec","type":"quantitative","scale":{"domain":[0,0.5],"nice":false},"axis":{"title":null,"values":[0,0.1,0.2,0.3,0.4,0.5],"labelExpr":"datum.value == 0 ? '0' : format(datum.value, '.1f')","labelColor":"#7092be","labelFontSize":8,"labelPadding":5}}}},
{"mark":{"type":"line","clip":true,"color":"#c00000","strokeWidth":1.6,"strokeDash":[5,3]},"encoding":{"y":{"field":"tempAvg","type":"quantitative","scale":{"domain":[10,23.3],"nice":false,"zero":false},"axis":null}}},
{"mark":{"type":"line","clip":true,"color":"#c00000","strokeWidth":2},"encoding":{"y":{"field":"temp","type":"quantitative","scale":{"domain":[10,23.3],"nice":false,"zero":false},"axis":null}}}
],"resolve":{"scale":{"y":"independent"}}},
{"title":"2013","transform":[{"filter":"datum.year == 2013"}],"encoding":{"x":{"field":"month","type":"quantitative","scale":{"domain":[1,12],"nice":false,"zero":false},"axis":{"values":[1,6,11],"title":null,"domain":false,"labelFlush":false,"labelFontSize":8,"labelColor":"#404040","labelPadding":4}}},"layer":[
{"mark":{"type":"line","clip":true,"color":"#3a74ad","strokeWidth":1.5,"strokeDash":[5,3]},"encoding":{"y":{"field":"precAvg","type":"quantitative","scale":{"domain":[0,0.5],"nice":false},"axis":null}}},
{"mark":{"type":"line","clip":true,"color":"#6a9fd2","strokeWidth":1.5},"encoding":{"y":{"field":"prec","type":"quantitative","scale":{"domain":[0,0.5],"nice":false},"axis":{"title":null,"labels":false}}}},
{"mark":{"type":"line","clip":true,"color":"#c00000","strokeWidth":1.6,"strokeDash":[5,3]},"encoding":{"y":{"field":"tempAvg","type":"quantitative","scale":{"domain":[10,23.3],"nice":false,"zero":false},"axis":null}}},
{"mark":{"type":"line","clip":true,"color":"#c00000","strokeWidth":2},"encoding":{"y":{"field":"temp","type":"quantitative","scale":{"domain":[10,23.3],"nice":false,"zero":false},"axis":null}}}
],"resolve":{"scale":{"y":"independent"}}},
{"title":"2014","transform":[{"filter":"datum.year == 2014"}],"encoding":{"x":{"field":"month","type":"quantitative","scale":{"domain":[1,12],"nice":false,"zero":false},"axis":{"values":[1,6,11],"title":null,"domain":false,"labelFlush":false,"labelFontSize":8,"labelColor":"#404040","labelPadding":4}}},"layer":[
{"mark":{"type":"line","clip":true,"color":"#3a74ad","strokeWidth":1.5,"strokeDash":[5,3]},"encoding":{"y":{"field":"precAvg","type":"quantitative","scale":{"domain":[0,0.5],"nice":false},"axis":null}}},
{"mark":{"type":"line","clip":true,"color":"#6a9fd2","strokeWidth":1.5},"encoding":{"y":{"field":"prec","type":"quantitative","scale":{"domain":[0,0.5],"nice":false},"axis":{"title":null,"labels":false}}}},
{"mark":{"type":"line","clip":true,"color":"#c00000","strokeWidth":1.6,"strokeDash":[5,3]},"encoding":{"y":{"field":"tempAvg","type":"quantitative","scale":{"domain":[10,23.3],"nice":false,"zero":false},"axis":null}}},
{"mark":{"type":"line","clip":true,"color":"#c00000","strokeWidth":2},"encoding":{"y":{"field":"temp","type":"quantitative","scale":{"domain":[10,23.3],"nice":false,"zero":false},"axis":null}}}
],"resolve":{"scale":{"y":"independent"}}},
{"title":"2015","transform":[{"filter":"datum.year == 2015"}],"encoding":{"x":{"field":"month","type":"quantitative","scale":{"domain":[1,12],"nice":false,"zero":false},"axis":{"values":[1,6,11],"title":null,"domain":false,"labelFlush":false,"labelFontSize":8,"labelColor":"#404040","labelPadding":4}}},"layer":[
{"mark":{"type":"line","clip":true,"color":"#3a74ad","strokeWidth":1.5,"strokeDash":[5,3]},"encoding":{"y":{"field":"precAvg","type":"quantitative","scale":{"domain":[0,0.5],"nice":false},"axis":null}}},
{"mark":{"type":"line","clip":true,"color":"#6a9fd2","strokeWidth":1.5},"encoding":{"y":{"field":"prec","type":"quantitative","scale":{"domain":[0,0.5],"nice":false},"axis":{"title":null,"labels":false}}}},
{"mark":{"type":"line","clip":true,"color":"#c00000","strokeWidth":1.6,"strokeDash":[5,3]},"encoding":{"y":{"field":"tempAvg","type":"quantitative","scale":{"domain":[10,23.3],"nice":false,"zero":false},"axis":null}}},
{"mark":{"type":"line","clip":true,"color":"#c00000","strokeWidth":2},"encoding":{"y":{"field":"temp","type":"quantitative","scale":{"domain":[10,23.3],"nice":false,"zero":false},"axis":{"orient":"right","title":null,"values":[10,15,20],"labelColor":"#b5504f","labelFontSize":8,"labelPadding":5}}}}
],"resolve":{"scale":{"y":"independent"}}},
{"title":{"text":"2016","offset":6},"transform":[{"filter":"datum.year == 2016"}],"encoding":{"x":{"field":"month","type":"quantitative","scale":{"domain":[1,12],"nice":false,"zero":false},"axis":{"values":[1,6,11],"title":null,"domain":false,"labelFlush":false,"labelFontSize":8,"labelColor":"#404040","labelPadding":4}}},"layer":[
{"mark":{"type":"line","clip":true,"color":"#3a74ad","strokeWidth":1.5,"strokeDash":[5,3]},"encoding":{"y":{"field":"precAvg","type":"quantitative","scale":{"domain":[0,0.5],"nice":false},"axis":null}}},
{"mark":{"type":"line","clip":true,"color":"#6a9fd2","strokeWidth":1.5},"encoding":{"y":{"field":"prec","type":"quantitative","scale":{"domain":[0,0.5],"nice":false},"axis":{"title":null,"values":[0,0.1,0.2,0.3,0.4,0.5],"labelExpr":"datum.value == 0 ? '0' : format(datum.value, '.1f')","labelColor":"#7092be","labelFontSize":8,"labelPadding":5}}}},
{"mark":{"type":"line","clip":true,"color":"#c00000","strokeWidth":1.6,"strokeDash":[5,3]},"encoding":{"y":{"field":"tempAvg","type":"quantitative","scale":{"domain":[10,23.3],"nice":false,"zero":false},"axis":null}}},
{"mark":{"type":"line","clip":true,"color":"#c00000","strokeWidth":2},"encoding":{"y":{"field":"temp","type":"quantitative","scale":{"domain":[10,23.3],"nice":false,"zero":false},"axis":null}}}
],"resolve":{"scale":{"y":"independent"}}},
{"title":"2017","transform":[{"filter":"datum.year == 2017"}],"encoding":{"x":{"field":"month","type":"quantitative","scale":{"domain":[1,12],"nice":false,"zero":false},"axis":{"values":[1,6,11],"title":null,"domain":false,"labelFlush":false,"labelFontSize":8,"labelColor":"#404040","labelPadding":4}}},"layer":[
{"mark":{"type":"line","clip":true,"color":"#3a74ad","strokeWidth":1.5,"strokeDash":[5,3]},"encoding":{"y":{"field":"precAvg","type":"quantitative","scale":{"domain":[0,0.5],"nice":false},"axis":null}}},
{"mark":{"type":"line","clip":true,"color":"#6a9fd2","strokeWidth":1.5},"encoding":{"y":{"field":"prec","type":"quantitative","scale":{"domain":[0,0.5],"nice":false},"axis":{"title":null,"labels":false}}}},
{"mark":{"type":"line","clip":true,"color":"#c00000","strokeWidth":1.6,"strokeDash":[5,3]},"encoding":{"y":{"field":"tempAvg","type":"quantitative","scale":{"domain":[10,23.3],"nice":false,"zero":false},"axis":null}}},
{"mark":{"type":"line","clip":true,"color":"#c00000","strokeWidth":2},"encoding":{"y":{"field":"temp","type":"quantitative","scale":{"domain":[10,23.3],"nice":false,"zero":false},"axis":null}}}
],"resolve":{"scale":{"y":"independent"}}},
{"title":"2018","transform":[{"filter":"datum.year == 2018"}],"encoding":{"x":{"field":"month","type":"quantitative","scale":{"domain":[1,12],"nice":false,"zero":false},"axis":{"values":[1,6,11],"title":null,"domain":false,"labelFlush":false,"labelFontSize":8,"labelColor":"#404040","labelPadding":4}}},"layer":[
{"mark":{"type":"line","clip":true,"color":"#3a74ad","strokeWidth":1.5,"strokeDash":[5,3]},"encoding":{"y":{"field":"precAvg","type":"quantitative","scale":{"domain":[0,0.5],"nice":false},"axis":null}}},
{"mark":{"type":"line","clip":true,"color":"#6a9fd2","strokeWidth":1.5},"encoding":{"y":{"field":"prec","type":"quantitative","scale":{"domain":[0,0.5],"nice":false},"axis":{"title":null,"labels":false}}}},
{"mark":{"type":"line","clip":true,"color":"#c00000","strokeWidth":1.6,"strokeDash":[5,3]},"encoding":{"y":{"field":"tempAvg","type":"quantitative","scale":{"domain":[10,23.3],"nice":false,"zero":false},"axis":null}}},
{"mark":{"type":"line","clip":true,"color":"#c00000","strokeWidth":2},"encoding":{"y":{"field":"temp","type":"quantitative","scale":{"domain":[10,23.3],"nice":false,"zero":false},"axis":null}}}
],"resolve":{"scale":{"y":"independent"}}},
{"title":"2019","transform":[{"filter":"datum.year == 2019"}],"encoding":{"x":{"field":"month","type":"quantitative","scale":{"domain":[1,12],"nice":false,"zero":false},"axis":{"values":[1,6,11],"title":null,"domain":false,"labelFlush":false,"labelFontSize":8,"labelColor":"#404040","labelPadding":4}}},"layer":[
{"mark":{"type":"line","clip":true,"color":"#3a74ad","strokeWidth":1.5,"strokeDash":[5,3]},"encoding":{"y":{"field":"precAvg","type":"quantitative","scale":{"domain":[0,0.5],"nice":false},"axis":null}}},
{"mark":{"type":"line","clip":true,"color":"#6a9fd2","strokeWidth":1.5},"encoding":{"y":{"field":"prec","type":"quantitative","scale":{"domain":[0,0.5],"nice":false},"axis":{"title":null,"labels":false}}}},
{"mark":{"type":"line","clip":true,"color":"#c00000","strokeWidth":1.6,"strokeDash":[5,3]},"encoding":{"y":{"field":"tempAvg","type":"quantitative","scale":{"domain":[10,23.3],"nice":false,"zero":false},"axis":null}}},
{"mark":{"type":"line","clip":true,"color":"#c00000","strokeWidth":2},"encoding":{"y":{"field":"temp","type":"quantitative","scale":{"domain":[10,23.3],"nice":false,"zero":false},"axis":{"orient":"right","title":null,"values":[10,15,20],"labelColor":"#b5504f","labelFontSize":8,"labelPadding":5}}}}
],"resolve":{"scale":{"y":"independent"}}}
],
"config":{
"view":{"continuousWidth":111,"continuousHeight":73,"stroke":null},
"line":{"interpolate":"catmull-rom"},
"font":"Liberation Sans",
"title":{"fontSize":12,"fontWeight":"normal","color":"#262626","offset":10,"font":"Liberation Sans","frame":"group"},
"axis":{"domainColor":"#d9d9d9","ticks":false,"grid":false,"labelFont":"Liberation Sans","titleFont":"Liberation Sans","titleFontWeight":"normal","titleColor":"#404040","titleFontSize":12}
}
}
